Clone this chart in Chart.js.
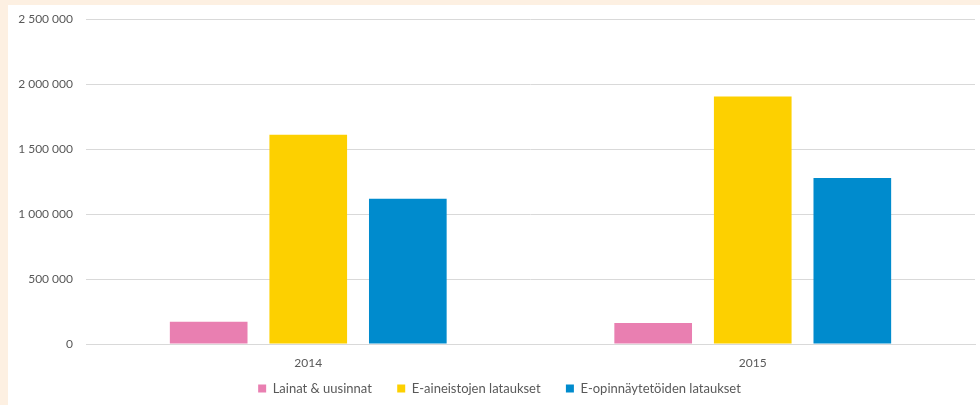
<!DOCTYPE html>
<html>
<head>
<meta charset="utf-8">
<script src="https://cdn.jsdelivr.net/npm/chart.js@4/dist/chart.umd.min.js"></script>
<style>
  html, body { margin: 0; padding: 0; background: #fdf0e2; }
  #wrap { position: absolute; left: 8px; top: 5px; width: 972px; height: 400px; background: #fff; }
</style>
</head>
<body>
<div id="wrap"><canvas id="chart" width="972" height="400"></canvas></div>
<script>
const years = ['2014', '2015'];
const seriesNames = ['Lainat & uusinnat', 'E-aineistojen lataukset', 'E-opinnäytetöiden lataukset'];
const loans = [172000, 162000];
const eMaterialDownloads = [1610000, 1905000];
const eThesisDownloads = [1118000, 1277000];
const seriesColors = ['#e97fb1', '#fdd000', '#008bcd'];
const yTicks = [0, 500000, 1000000, 1500000, 2000000, 2500000];

const fontFamily = "Lato, 'Open Sans', sans-serif";
const textColor = '#595959';

// thousands grouped with spaces: 2 500 000
const fmt = v => String(v).replace(/\B(?=(\d{3})+(?!\d))/g, ' ');

// legend sits a bit right of the canvas centre
const legendNudge = {
  id: 'legendNudge',
  afterLayout(chart) {
    chart.legend.left += 8;
    chart.legend.right += 8;
  }
};

const ctx = document.getElementById('chart').getContext('2d');
new Chart(ctx, {
  type: 'bar',
  data: {
    labels: years,
    datasets: [loans, eMaterialDownloads, eThesisDownloads].map((d, i) => ({
      label: seriesNames[i],
      data: d,
      backgroundColor: seriesColors[i],
      borderWidth: 0
    }))
  },
  plugins: [legendNudge],
  options: {
    responsive: false,
    animation: false,
    categoryPercentage: 0.672,
    barPercentage: 0.78,
    layout: { padding: { left: 0, right: 5, top: 0, bottom: 0 } },
    scales: {
      x: {
        afterFit: axis => { axis.height = 26; },
        grid: { display: false, drawTicks: false },
        border: { color: '#d9d9d9' },
        ticks: { color: textColor, font: { family: fontFamily, size: 12 }, padding: 12 }
      },
      y: {
        min: 0,
        max: 2500000,
        afterBuildTicks: axis => { axis.ticks = yTicks.map(v => ({ value: v })); },
        afterFit: axis => { axis.width = 78; },
        // invisible tick marks keep the labels off the grid without extra top padding
        grid: { color: '#d9d9d9', tickColor: 'transparent', tickLength: 6 },
        border: { display: false },
        ticks: {
          color: textColor,
          font: { family: fontFamily, size: 12 },
          padding: 7,
          callback: v => fmt(v)
        }
      }
    },
    plugins: {
      legend: {
        position: 'bottom',
        labels: {
          color: textColor,
          font: { family: fontFamily, size: 13 },
          boxWidth: 8,
          boxHeight: 8,
          padding: 12,
          // a little extra room after each entry, the row height stays tight
          generateLabels: chart => Chart.defaults.plugins.legend.labels.generateLabels(chart)
            .map((item, i, all) => ({ ...item, text: i < all.length - 1 ? item.text + '    ' : item.text }))
        }
      },
      tooltip: { enabled: false }
    }
  }
});
</script>
</body>
</html>
